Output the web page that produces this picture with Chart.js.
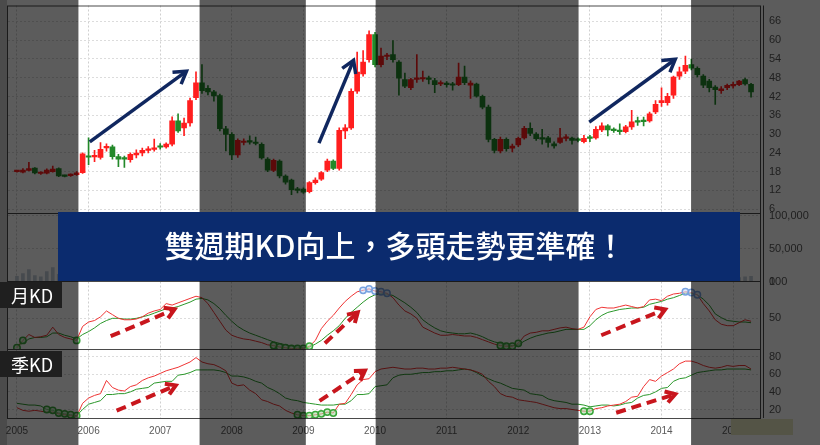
<!DOCTYPE html>
<html>
<head>
<meta charset="utf-8">
<script src="https://cdn.jsdelivr.net/npm/chart.js@4"></script>
<style>
  html, body { margin: 0; padding: 0; background: #fff; }
  #wrap { width: 820px; height: 445px; }
</style>
</head>
<body>
<div id="wrap"><canvas id="kdChart" width="820" height="445"></canvas></div>
<script>
// Monthly categories, Dec 2004 .. May 2015
const months = [];
for (let y = 2004, m = 12; months.length < 126; m++) {
    if (m > 12) { m = 1; y++; }
    months.push(y + '-' + String(m).padStart(2, '0'));
}

// Monthly candles (price)
const openVals = [null,
    18.0, 17.8, 18.4, 19.1, 17.4, 17.5, 18.0, 19.0, 16.6, 16.7, 17.0, 17.7,
    23.0, 22.7, 22.5, 25.6, 25.9, 22.8, 22.3, 21.8, 23.3, 24.0, 24.8, 25.1,
    26.1, 25.9, 26.8, 34.2, 32.0, 33.6, 41.6, 46.4, 44.6, 43.5, 42.3, 31.7,
    29.9, 23.3, 27.3, 27.5, 27.4, 26.7, 22.0, 18.4, 21.4, 16.6, 15.3, 12.3,
    12.4, 11.6, 14.5, 15.6, 18.5, 21.4, 19.0, 31.0, 32.0, 43.7, 49.2, 53.8,
    61.8, 52.2, 54.8, 55.4, 53.0, 47.4, 44.8, 47.5, 47.6, 47.8, 47.1, 46.0,
    46.0, 46.0, 45.8, 48.2, 45.6, 46.0, 42.1, 38.6, 28.3, 24.6, 28.3, 25.5,
    26.5, 28.8, 31.8, 30.0, 28.8, 28.8, 26.9, 27.3, 28.6, 28.7, 28.2, 27.6,
    28.8, 28.8, 31.3, 32.6, 31.4, 31.2, 30.8, 32.3, 34.1, 34.2, 34.2, 37.1,
    40.0, 40.0, 42.4, 48.5, 50.1, 52.2, 51.0, 48.5, 46.9, 45.0, 43.9, 44.8,
    45.4, 45.8, 47.4, 45.9, null];
const highVals = [null,
    18.3, 19.0, 21.0, 19.3, 17.9, 18.9, 19.8, 19.2, 16.9, 17.3, 18.0, 24.0,
    28.8, 24.8, 27.3, 26.9, 26.5, 23.5, 23.0, 24.0, 25.0, 25.5, 26.0, 28.4,
    27.0, 27.2, 35.5, 36.5, 35.1, 41.5, 49.9, 52.2, 45.5, 44.0, 42.8, 32.5,
    30.5, 28.5, 28.5, 29.4, 29.0, 27.2, 22.5, 22.0, 21.8, 17.0, 15.6, 13.0,
    12.8, 14.8, 16.0, 18.0, 22.0, 21.8, 32.0, 33.0, 44.5, 56.2, 56.7, 63.0,
    62.5, 57.5, 55.8, 59.9, 53.5, 49.5, 47.8, 55.4, 50.1, 48.5, 47.8, 47.0,
    46.8, 46.5, 52.7, 51.7, 47.0, 46.3, 42.5, 39.3, 28.6, 29.0, 28.8, 26.8,
    29.0, 32.5, 33.6, 30.5, 31.5, 29.3, 27.5, 31.8, 29.8, 29.0, 28.8, 29.6,
    29.6, 32.4, 33.6, 33.0, 32.0, 33.3, 32.8, 37.6, 35.4, 35.4, 37.0, 40.7,
    44.8, 43.0, 48.5, 51.4, 54.9, 54.0, 51.5, 49.0, 47.5, 45.5, 45.2, 46.0,
    46.6, 47.2, 47.9, 46.2, null];
const lowVals = [null,
    17.8, 17.6, 18.2, 17.3, 17.1, 17.3, 17.8, 16.4, 16.3, 16.5, 16.8, 17.4,
    20.2, 21.2, 22.0, 24.5, 22.0, 19.6, 19.3, 21.0, 22.4, 23.0, 24.0, 24.5,
    25.2, 25.5, 26.2, 30.5, 29.5, 32.5, 41.0, 43.0, 42.5, 40.5, 31.0, 24.6,
    21.8, 22.5, 26.5, 26.8, 26.5, 22.0, 18.0, 18.0, 16.0, 14.0, 10.6, 11.2,
    11.0, 11.2, 14.0, 15.2, 18.0, 18.6, 18.5, 28.5, 31.5, 43.0, 48.5, 53.0,
    51.5, 51.5, 53.8, 53.0, 42.4, 44.8, 44.2, 46.5, 46.8, 46.0, 43.2, 45.5,
    45.0, 44.0, 45.5, 45.8, 41.4, 41.8, 38.0, 27.5, 24.0, 24.0, 24.5, 24.3,
    26.0, 28.4, 29.5, 28.0, 26.8, 25.8, 25.5, 27.0, 27.8, 26.8, 27.5, 27.2,
    27.6, 28.4, 30.8, 29.4, 30.5, 29.9, 30.4, 31.5, 32.8, 32.6, 33.8, 36.5,
    38.8, 39.2, 41.4, 47.5, 49.3, 50.5, 48.3, 44.8, 43.5, 39.5, 43.0, 44.2,
    44.7, 45.5, 45.6, 41.8, null];
const closeVals = [null,
    18.1, 18.5, 19.0, 17.6, 17.6, 18.5, 18.8, 16.6, 16.5, 17.0, 17.6, 23.7,
    22.6, 23.1, 25.1, 26.0, 22.8, 22.0, 22.0, 23.5, 23.9, 24.8, 25.3, 25.4,
    25.8, 26.8, 34.2, 31.0, 33.5, 40.7, 46.4, 43.9, 43.5, 42.2, 31.7, 29.9,
    23.3, 28.0, 27.6, 27.4, 27.0, 22.4, 18.5, 21.6, 16.6, 14.6, 12.2, 12.0,
    11.4, 14.5, 15.3, 17.7, 21.4, 19.0, 31.2, 32.0, 43.7, 49.8, 53.0, 61.8,
    52.2, 54.9, 55.0, 53.8, 47.9, 45.3, 47.4, 47.8, 48.0, 47.5, 45.8, 46.3,
    45.8, 45.6, 48.2, 46.4, 46.3, 42.1, 38.6, 28.3, 24.8, 28.3, 25.3, 26.2,
    28.6, 31.8, 30.2, 28.5, 28.4, 27.3, 26.2, 28.8, 28.9, 28.0, 28.0, 28.6,
    28.6, 31.5, 32.6, 31.3, 31.1, 30.8, 32.3, 33.9, 33.8, 34.0, 36.5, 39.5,
    40.7, 42.1, 48.2, 49.9, 52.0, 51.1, 49.0, 45.6, 44.8, 44.2, 44.5, 45.6,
    45.9, 46.9, 46.0, 43.5, null];

// Volume (mostly hidden behind the banner)
const volumeVals = [null,
    8000, 12000, 18000, 9000, 7000, 15000, 21000, 11000, 6000, 7000, 9000, 38000,
    52000, 30000, 35000, 28000, 25000, 18000, 15000, 16000, 14000, 17000, 15000, 20000,
    18000, 16000, 55000, 42000, 30000, 60000, 78000, 65000, 30000, 28000, 45000, 40000,
    38000, 30000, 20000, 18000, 16000, 22000, 25000, 20000, 24000, 22000, 18000, 12000,
    10000, 15000, 14000, 20000, 30000, 25000, 70000, 45000, 85000, 95000, 70000, 90000,
    65000, 40000, 30000, 35000, 40000, 25000, 20000, 30000, 22000, 18000, 20000, 15000,
    16000, 14000, 28000, 22000, 20000, 18000, 20000, 35000, 25000, 18000, 14000, 10000,
    12000, 20000, 16000, 11000, 12000, 10000, 8000, 12000, 9000, 8000, 7000, 9000,
    10000, 18000, 15000, 12000, 9000, 11000, 10000, 20000, 14000, 13000, 18000, 25000,
    30000, 22000, 40000, 30000, 35000, 20000, 15000, 14000, 10000, 12000, 8000, 7000,
    6000, 6000, 7000, 8000, null];

// Monthly KD
const monthK = [null,
    10, 20, 28, 24, 25, 27, 38, 28, 24, 22, 20, 39,
    45, 47, 52, 60, 55, 50, 48, 48, 49, 52, 57, 60,
    62, 70, 68, 71, 74, 77, 80, 78, 70, 58, 46, 34,
    27, 24, 22, 21, 19, 17, 14, 13, 11, 10, 9, 9,
    9, 12, 20, 36, 46, 54, 64, 73, 80, 86, 88, 90,
    87, 86, 84, 78, 68, 60, 56, 50, 38, 34, 30, 27,
    27, 28, 27, 26, 26, 24, 21, 18, 15, 13, 12, 12,
    16, 26, 30, 31, 33, 33, 35, 37, 38, 36, 35, 38,
    52, 62, 65, 64, 64, 66, 68, 66, 64, 66, 75, 76,
    74, 80, 83, 84, 86, 85, 82, 70, 60, 48, 42, 40,
    40, 44, 48, 46, null];
const monthD = [null,
    14, 16, 22, 24, 24, 25, 30, 30, 27, 25, 22, 28,
    32, 37, 43, 47, 50, 50, 49, 49, 50, 52, 54, 57,
    60, 63, 64, 66, 69, 72, 76, 77, 75, 70, 63, 54,
    46, 39, 34, 30, 27, 24, 21, 18, 16, 14, 12, 11,
    10, 11, 15, 20, 27, 33, 40, 50, 58, 65, 72, 78,
    82, 83, 83, 81, 76, 71, 65, 58, 48, 42, 37, 33,
    31, 30, 29, 29, 30, 28, 25, 21, 18, 16, 14, 13,
    14, 19, 23, 26, 28, 30, 31, 33, 35, 35, 35, 35,
    40, 48, 54, 58, 60, 62, 63, 64, 64, 65, 69, 71,
    73, 76, 78, 81, 84, 84, 82, 76, 68, 56, 51, 47,
    46, 45, 45, 44, null];

// Quarterly KD
const quarterK = [null,
    22, 19, 18, 19, 18, 17, 17, 15, 14, 13, 12, 27,
    33, 36, 38, 53, 45, 42, 41, 46, 48, 53, 56, 58,
    61, 64, 66, 68, 71, 74, 79, 74, 72, 71, 68, 64,
    50, 47, 48, 42, 38, 31, 29, 26, 24, 19, 16, 14,
    13, 13, 14, 15, 17, 16, 26, 27, 37, 48, 54, 55,
    63, 66, 67, 68, 67, 66, 66, 67, 67, 66, 66, 67,
    67, 68, 67, 66, 65, 63, 60, 52, 46, 38, 35, 34,
    31, 30, 29, 28, 26, 24, 22, 21, 21, 20, 19, 18,
    18, 21, 22, 24, 25, 26, 29, 34, 35, 46, 54, 52,
    58, 62, 66, 72, 75, 75, 73, 70, 68, 67, 68, 70,
    69, 70, 70, 66, null];
const quarterD = [null,
    27, 26, 25, 25, 24, 20, 19, 16, 15, 14, 13, 20,
    26, 28, 30, 37, 37, 38, 38, 40, 43, 44, 45, 50,
    51, 52, 52, 59, 60, 62, 65, 65, 65, 65, 64, 62,
    58, 58, 57, 55, 52, 50, 45, 42, 38, 33, 31, 30,
    28, 27, 26, 25, 25, 25, 26, 26, 30, 37, 37, 38,
    46, 47, 48, 56, 59, 60, 60, 61, 62, 62, 63, 63,
    64, 64, 65, 66, 65, 62, 58, 55, 52, 50, 47, 44,
    43, 42, 38, 37, 36, 32, 30, 29, 28, 26, 26, 25,
    23, 24, 25, 25, 24, 25, 27, 28, 33, 36, 37, 40,
    44, 45, 52, 55, 56, 59, 62, 63, 64, 65, 65, 66,
    66, 66, 66, 65, null];

// Marker circles (indices into months)
const mkOversoldIdx = [1, 2, 11, 44, 45, 46, 47, 48, 49, 50, 82, 83, 84, 85];
const mkOverboughtIdx = [59, 60, 61, 62, 63, 113, 114, 115];
const qkOversoldIdx = [48, 49, 50, 51, 52, 53, 54, 96, 97];
const qdOversoldIdx = [6, 7, 8, 9, 10, 11];

// Axis ticks
const priceTicks = [6, 12, 18, 24, 30, 36, 42, 48, 54, 60, 66];
const volTicks = [0, 50000, 100000];
const monthKdTicks = [50, 100];
const quarterKdTicks = [20, 40, 60, 80];

// Highlighted spans (month index) and arrow annotations [i1, v1, i2, v2]
const highlightSpans = [[11.3, 31.6], [49.4, 61.1], [95.1, 113.95]];
const priceArrows = [[13.2, 27.5, 29.4, 50.1], [51.6, 27.1, 57.4, 53.6], [96.9, 33.8, 111.3, 53.9]];
const monthArrows = [[16.7, 25.7, 27.4, 62.2], [52.6, 16.2, 58.1, 58.1], [98.9, 27.0, 109.6, 62.2]];
const quarterArrows = [[17.7, 18.6, 27.6, 47.4], [51.7, 29.7, 59.3, 64.1], [101.4, 16.3, 111.3, 37.4]];

const UP = '#ff1e1e', DOWN = '#23892a';
const isUp = i => closeVals[i] >= openVals[i];
const pick = (src, idx) => src.map((v, i) => idx.includes(i) ? v : null);
const tickFont = { family: 'Liberation Sans', size: 11 };
const noPad = sc => { sc.paddingTop = 0; sc.paddingBottom = 0; sc.paddingLeft = 0; sc.paddingRight = 0; };

function drawArrow(c, x1, y1, x2, y2, color, width, dash, head) {
    const a = Math.atan2(y2 - y1, x2 - x1);
    c.save();
    c.strokeStyle = color;
    c.lineWidth = width;
    c.setLineDash(dash);
    c.beginPath();
    c.moveTo(x1, y1);
    c.lineTo(x2 - Math.cos(a) * 2, y2 - Math.sin(a) * 2);
    c.stroke();
    c.setLineDash([]);
    c.lineJoin = 'miter';
    c.beginPath();
    c.moveTo(x2 - head * Math.cos(a - 0.55), y2 - head * Math.sin(a - 0.55));
    c.lineTo(x2, y2);
    c.lineTo(x2 - head * Math.cos(a + 0.55), y2 - head * Math.sin(a + 0.55));
    c.stroke();
    c.restore();
}

const decor = {
    id: 'decor',
    beforeDraw(chart) {
        const c = chart.ctx;
        c.save();
        c.fillStyle = '#ffffff';
        c.fillRect(0, 0, chart.width, chart.height);
        c.fillStyle = '#d0d0d0';
        c.fillRect(0, 0, chart.chartArea.left - 1, chart.height);
        c.restore();
    },
    afterDatasetsDraw(chart) {
        const c = chart.ctx, a = chart.chartArea, s = chart.scales;
        c.save();
        c.strokeStyle = '#4a4a4a';
        c.lineWidth = 1;
        c.strokeRect(a.left - 0.5, a.top + 0.5, a.right - a.left + 1, a.bottom - a.top);
        c.beginPath();
        [s.yPrice.bottom, s.yVol.bottom, s.yMK.bottom].forEach(y => {
            c.moveTo(a.left, Math.round(y) + 0.5);
            c.lineTo(a.right, Math.round(y) + 0.5);
        });
        c.moveTo(a.right + 3.5, a.top);
        c.lineTo(a.right + 3.5, a.bottom);
        c.stroke();
        c.restore();
    },
    afterDraw(chart) {
        const c = chart.ctx, s = chart.scales;
        const X = i => s.x.getPixelForValue(i);
        c.save();
        // navigator box
        c.fillStyle = '#e8e8c2';
        c.fillRect(731, 419, 62, 16);
        // dim everything outside the highlighted spans
        c.fillStyle = 'rgba(0,0,0,0.64)';
        let from = 0;
        highlightSpans.forEach(([a, b]) => {
            c.fillRect(from, 0, X(a) - from, chart.height);
            from = X(b);
        });
        c.fillRect(from, 0, chart.width - from, chart.height);

        // banner
        c.fillStyle = '#0b2b6e';
        c.fillRect(58, 212, 682, 69);
        c.fillStyle = '#ffffff';
        c.font = '500 30px "Noto Sans CJK TC"';
        c.textAlign = 'center';
        c.textBaseline = 'middle';
        c.fillText('雙週期KD向上，多頭走勢更準確！', 395, 246);

        // panel tags
        c.textAlign = 'left';
        c.font = '18px "Noto Sans CJK TC"';
        [['月KD', 282], ['季KD', 351]].forEach(([t, y]) => {
            c.fillStyle = '#1f1f1f';
            c.fillRect(0, y, 62, 26);
            c.fillStyle = '#ffffff';
            c.fillText(t, 11, y + 14);
        });
        c.restore();

        priceArrows.forEach(([i1, v1, i2, v2]) =>
            drawArrow(c, X(i1), s.yPrice.getPixelForValue(v1), X(i2), s.yPrice.getPixelForValue(v2), '#10275f', 3.5, [], 14));
        monthArrows.forEach(([i1, v1, i2, v2]) =>
            drawArrow(c, X(i1), s.yMK.getPixelForValue(v1), X(i2), s.yMK.getPixelForValue(v2), '#c8161d', 4, [10, 6], 11));
        quarterArrows.forEach(([i1, v1, i2, v2]) =>
            drawArrow(c, X(i1), s.yQK.getPixelForValue(v1), X(i2), s.yQK.getPixelForValue(v2), '#c8161d', 4, [10, 6], 11));
    }
};

function yAxis(weight, min, max, ticks, fmt) {
    return {
        type: 'linear', position: 'right', stack: 'panels', stackWeight: weight,
        min: min, max: max,
        afterBuildTicks: sc => { sc.ticks = ticks.map(v => ({ value: v })); },
        afterFit: sc => { sc.width = 60; noPad(sc); },
        grid: { color: '#dcdcdc', drawTicks: false },
        border: { display: false, dash: [2, 2] },
        ticks: { padding: 9, color: '#5a5a5a', font: tickFont, autoSkip: false, callback: fmt || (v => v) }
    };
}

const lineSet = (data, axis, color) => ({
    type: 'line', data: data, yAxisID: axis, borderColor: color, borderWidth: 1,
    pointRadius: 0, tension: 0, order: 3
});
const markSet = (data, axis, stroke, fill) => ({
    type: 'line', data: data, yAxisID: axis, showLine: false, pointRadius: 3.2,
    pointBorderWidth: 1.5, pointBorderColor: stroke, pointBackgroundColor: fill, order: 0
});

new Chart(document.getElementById('kdChart'), {
    type: 'bar',
    data: {
        labels: months,
        datasets: [
            {
                data: months.map((_, i) => openVals[i] == null ? null : [lowVals[i], highVals[i]]),
                yAxisID: 'yPrice', barThickness: 1, grouped: false, order: 2,
                backgroundColor: ctx => isUp(ctx.dataIndex) ? UP : DOWN
            },
            {
                data: months.map((_, i) => openVals[i] == null ? null : [openVals[i], closeVals[i]]),
                yAxisID: 'yPrice', barThickness: 5, grouped: false, order: 1, minBarLength: 1.5,
                backgroundColor: ctx => isUp(ctx.dataIndex) ? UP : DOWN
            },
            {
                data: volumeVals, yAxisID: 'yVol', barThickness: 3, grouped: false, order: 2,
                backgroundColor: '#c3cdd8'
            },
            lineSet(monthK, 'yMK', '#ef3434'),
            lineSet(monthD, 'yMK', '#2b982b'),
            lineSet(quarterK, 'yQK', '#ef3434'),
            lineSet(quarterD, 'yQK', '#2b982b'),
            markSet(pick(monthK, mkOversoldIdx), 'yMK', '#3aa63a', 'rgba(170,220,170,0.6)'),
            markSet(pick(monthK, mkOverboughtIdx), 'yMK', '#78a2e0', 'rgba(205,222,248,0.6)'),
            markSet(pick(quarterK, qkOversoldIdx), 'yQK', '#3aa63a', 'rgba(170,220,170,0.6)'),
            markSet(pick(quarterD, qdOversoldIdx), 'yQK', '#3aa63a', 'rgba(170,220,170,0.6)')
        ]
    },
    options: {
        responsive: false,
        devicePixelRatio: 1,
        animation: false,
        events: [],
        layout: { padding: { left: 8, top: 4, right: 0, bottom: 0 } },
        plugins: { legend: { display: false }, tooltip: { enabled: false } },
        scales: {
            x: {
                type: 'category', offset: true,
                grid: {
                    offset: false, drawTicks: false,
                    color: ctx => (months[ctx.index] || '').endsWith('-01') ? '#cfcfcf' : 'rgba(0,0,0,0)'
                },
                border: { display: false, dash: [2, 2] },
                afterFit: sc => { sc.height = 27; noPad(sc); },
                ticks: {
                    autoSkip: false, maxRotation: 0, padding: 7, color: '#5a5a5a',
                    font: { family: 'Liberation Sans', size: 10 },
                    callback: (v, i) => months[i].endsWith('-01') ? months[i].slice(0, 4) : ''
                }
            },
            yPrice: yAxis(208, 4.85, 71.1, priceTicks),
            yVol: yAxis(69, 0, 104500, volTicks, v => v.toLocaleString('en-US')),
            yMK: yAxis(68, 8, 100, monthKdTicks),
            yQK: yAxis(69, 10.3, 88.5, quarterKdTicks)
        }
    },
    plugins: [decor]
});
</script>
</body>
</html>
